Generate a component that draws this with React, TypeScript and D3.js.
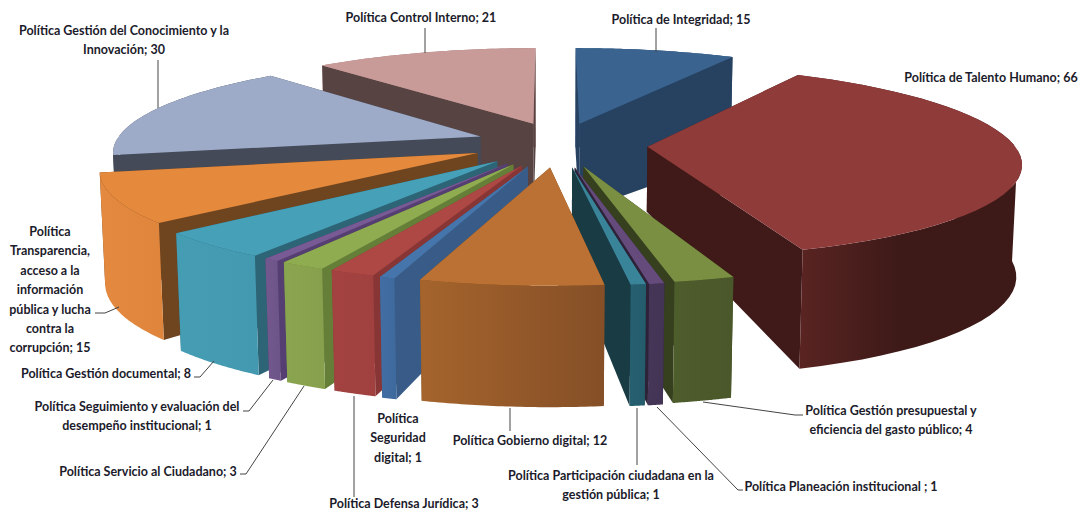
import React from "react";
import * as d3 from "d3";

const categories = [
  "Integridad","Talento Humano","Gestión presupuestal","Planeación","Participación","Gobierno digital",
  "Seguridad digital","Defensa Jurídica","Servicio al Ciudadano","Seguimiento","Gestión documental",
  "Transparencia","Conocimiento","Control Interno",
];
const values = [15, 66, 4, 1, 1, 12, 1, 3, 3, 1, 8, 15, 30, 21];

// styling tables
const topColors = ["#3a648f","#8f3b3a","#7a8f42","#654b7c","#3a8499","#ba7133","#4675ac","#ae4845","#8fad50","#785a94","#45a0b8","#e5893c","#9dabc8","#c89b99"];
const rimLight = ["#32577d","#5a2422","#4e5d2c","#453557","#265f70","#a5642c","#426ea3","#a34240","#8aa54f","#72588e","#459db4","#e38a40","#444a58","#a67f7d"];
const rimDark = ["#2d4e70","#3d1a18","#4a572a","#433355","#245c6c","#854f27","#3f6a9e","#a04140","#87a04d","#6e5589","#4399b0","#e0863c","#444a58","#967270"];
const rimStop = [1,0.45,1,1,1,1,1,1,1,1,1,1,1,1];
const wallColors = ["#274261","#3f1a18","#36401f","#2d2238","#183b44","#7a4a20","#385c87","#883635","#667f38","#553e71","#2d6577","#6f4520","#444a58","#574442"];
const explodeX = [0.083,0.265,0.088,0.065,0.058,0,-0.058,-0.074,-0.097,-0.113,-0.14,-0.195,-0.192,-0.047];
const explodeY = [-0.205,0.05,0.256,0.266,0.266,0.266,0.256,0.246,0.235,0.225,0.203,0.118,-0.06,-0.205];
const apexDepth: (number | null)[] = [null,65,null,null,null,null,null,null,null,null,null,null,null,null];
const drawOrder = [13,0,12,11,1,2,3,4,10,9,8,7,6,5];

const labelLines = [
  { t: ["Política de Integridad; 15"], x: 681, y: 24 },
  { t: ["Política de Talento Humano; 66"], x: 991, y: 82 },
  { t: ["Política Gestión presupuestal y", "eficiencia del gasto público; 4"], x: 891, y: 415 },
  { t: ["Política Planeación institucional ; 1"], x: 841, y: 491 },
  { t: ["Política Participación ciudadana en la", "gestión pública; 1"], x: 611, y: 480 },
  { t: ["Política Gobierno digital; 12"], x: 530, y: 445 },
  { t: ["Política", "Seguridad", "digital; 1"], x: 398, y: 423 },
  { t: ["Política Defensa Jurídica; 3"], x: 404, y: 508 },
  { t: ["Política Servicio al Ciudadano; 3"], x: 148, y: 476 },
  { t: ["Política Seguimiento y evaluación del", "desempeño institucional; 1"], x: 137, y: 411 },
  { t: ["Política Gestión documental; 8"], x: 106, y: 378 },
  { t: ["Política", "Transparencia,", "acceso a la", "información", "pública y lucha", "contra la", "corrupción; 15"], x: 50, y: 236 },
  { t: ["Política Gestión del Conocimiento y la", "Innovación; 30"], x: 124, y: 35 },
  { t: ["Política Control Interno; 21"], x: 421, y: 22 },
];
const leaders: [number, number][][] = [
  [[656,28],[656,52]],
  [[703,402],[795,415],[803,415]],
  [[657,407],[738,490],[743,490]],
  [[637,408],[637,465]],
  [[510,408],[510,431]],
  [[354,396],[354,497]],
  [[240,474],[246,474],[304,386]],
  [[243,411],[249,411],[273,380]],
  [[194,377],[200,377],[214,361]],
  [[95,313],[105,313],[119,307]],
  [[158,60],[158,108]],
  [[425,28],[425,53]],
];

const W = 1079, H = 510;
const cx = 550, cy = 142, A = 365, B = 92, K = 0.15;

function project(X: number, Y: number, depth: number): [number, number] {
  const w = 1 - K * Y;
  const x = cx + (A * X) / w;
  const y = cy + (B * Y) / w;
  return [cx + (x - cx) * (1 - (0.013 * depth) / 120), y + depth];
}
const rimDepth = (Y: number) => 110 + 9 * Y;
const line = d3.line<[number, number]>();

export default function App() {
  const arcs = d3.pie<number>().sort(null)(values);
  const shapes = arcs.map((a, i) => {
    const ox = explodeX[i], oy = explodeY[i];
    const rim = (t: number): [number, number] => [ox + Math.sin(t), oy - Math.cos(t)];
    const steps = d3.range(0, 41).map((k) => a.startAngle + ((a.endAngle - a.startAngle) * k) / 40);
    const apexD = apexDepth[i] ?? 92 + 20 * oy;
    const top = rim(a.startAngle), end = rim(a.endAngle);
    const apexT = project(ox, oy, 0), apexB = project(ox, oy, apexD);
    const pt = (p: [number, number]) => project(p[0], p[1], 0);
    const pb = (p: [number, number]) => project(p[0], p[1], rimDepth(p[1]));
    const topPath = line([apexT, ...steps.map((t) => pt(rim(t)))])! + "Z";
    const wall = (p: [number, number]) => line([apexT, pt(p), pb(p), apexB])! + "Z";
    const band = (ts: number[]) => (ts.length < 2 ? "" : line([...ts.map((t) => pt(rim(t))), ...ts.slice().reverse().map((t) => pb(rim(t)))])! + "Z");
    const back = steps.filter((t) => Math.cos(t) >= 0);
    const front = steps.filter((t) => Math.cos(t) < 0);
    const xs = steps.map((t) => pt(rim(t))[0]);
    return { i, topPath, wallA: wall(top), wallB: wall(end), back: band(back), front: band(front), x0: d3.min(xs)!, x1: d3.max(xs)! };
  });

  return (
    <svg width={W} height={H} style={{ position: "absolute", left: 0, top: 0, background: "#fff" }}>
      <defs>
        {shapes.map((s) => (
          <linearGradient key={s.i} id={`rim${s.i}`} gradientUnits="userSpaceOnUse" x1={s.x0} x2={s.x1} y1={0} y2={0}>
            <stop offset="0" stopColor={rimLight[s.i]} />
            <stop offset={rimStop[s.i]} stopColor={rimDark[s.i]} />
          </linearGradient>
        ))}
      </defs>
      {drawOrder.map((i) => {
        const s = shapes[i];
        return (
          <g key={categories[i]}>
            {s.back && <path d={s.back} fill={`url(#rim${i})`} />}
            <path d={s.wallA} fill={wallColors[i]} />
            <path d={s.wallB} fill={wallColors[i]} />
            {s.front && <path d={s.front} fill={`url(#rim${i})`} />}
            <path d={s.topPath} fill={topColors[i]} />
          </g>
        );
      })}
      {leaders.map((l, i) => (
        <path key={i} d={line(l)!} fill="none" stroke="#444" strokeWidth={1} />
      ))}
      {labelLines.map((l, i) => (
        <text key={i} textAnchor="middle" fontFamily="Lato, sans-serif" fontWeight={700} fontSize={12.5} fill="#1b1b2b">
          {l.t.map((t, j) => (
            <tspan key={j} x={l.x} y={l.y + j * 19.4}>{t}</tspan>
          ))}
        </text>
      ))}
    </svg>
  );
}
